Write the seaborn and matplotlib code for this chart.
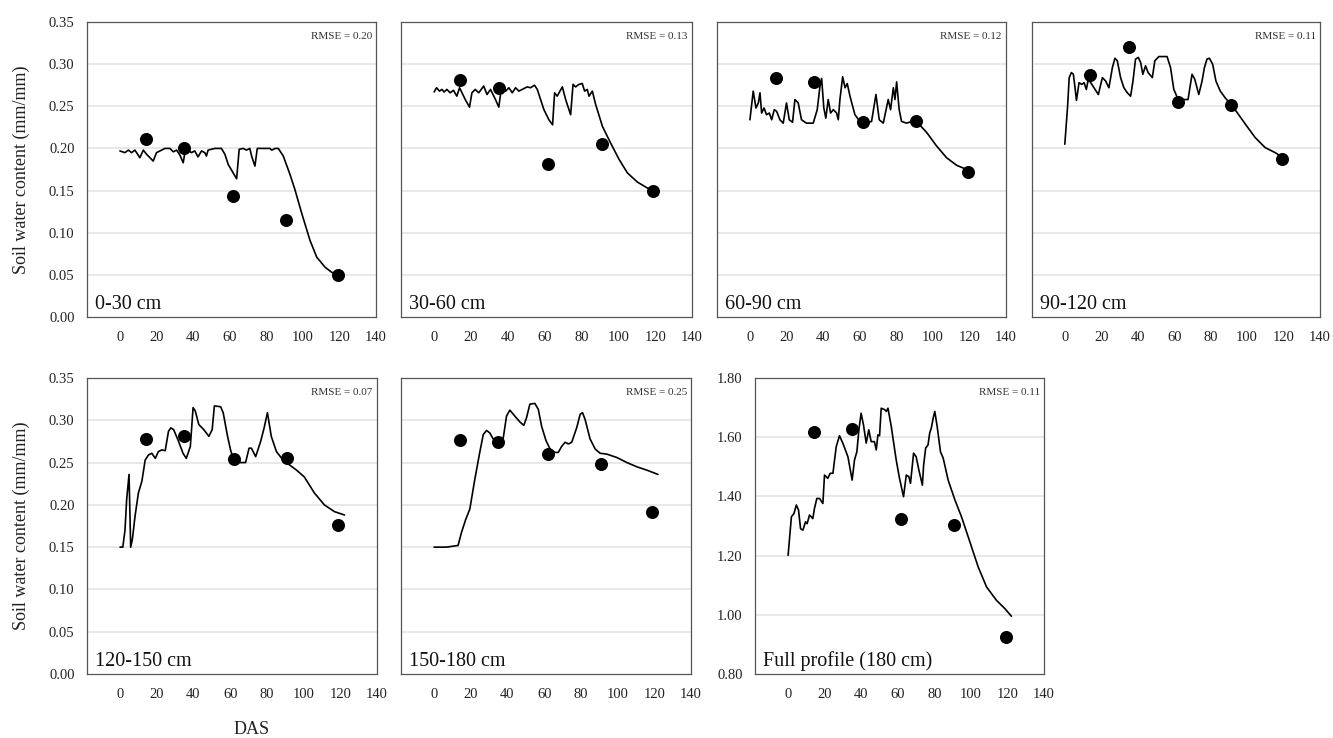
import matplotlib
matplotlib.use("Agg")
import matplotlib.pyplot as plt
import seaborn as sns
import pandas as pd

# Observation dates (days after sowing) shared by all layers
obs_das = [14, 35, 62, 91, 119]

# ---- 0-30 cm ----
sim_das_0_30 = [0, 2.7, 4.6, 6.4, 8.2, 10.9, 12.8, 14.6, 18.2, 20, 21.9, 24.6, 27.3, 29.2, 31, 32.8, 34.6, 35.5,
                37.3, 39.1, 40.9, 42.7, 44.6, 46.4, 47.3, 48.2, 50, 51.9, 55.5, 57.4, 59.2, 61.9, 63.8, 65.2,
                67.4, 69.2, 71, 72, 73.8, 75.1, 82, 83, 84.8, 86.6, 89.3, 93, 95.7, 99.4, 103.9, 107.6, 112.2,
                115.8, 118.6, 121]
sim_swc_0_30 = [0.197, 0.195, 0.198, 0.195, 0.198, 0.189, 0.198, 0.193, 0.185, 0.195, 0.197, 0.200, 0.200, 0.196,
                0.198, 0.192, 0.183, 0.195, 0.198, 0.195, 0.197, 0.190, 0.197, 0.195, 0.191, 0.198, 0.199, 0.200,
                0.200, 0.193, 0.181, 0.171, 0.164, 0.199, 0.200, 0.198, 0.200, 0.191, 0.179, 0.200, 0.200, 0.198,
                0.200, 0.200, 0.191, 0.169, 0.151, 0.123, 0.091, 0.071, 0.059, 0.053, 0.051, 0.053]
obs_swc_0_30 = [0.211, 0.200, 0.144, 0.115, 0.050]

# ---- 30-60 cm ----
sim_das_30_60 = [0, 1.3, 2.9, 4.2, 5.4, 6.9, 8.7, 10.5, 12.3, 13.8, 16.9, 19.2, 20.5, 22.3, 24.2, 26.9, 28.7, 30.6,
                 33.3, 35.1, 36.4, 38.8, 40.6, 42.4, 44.2, 46, 47.8, 50.5, 52.3, 54.5, 56, 59.6, 62.3, 64.3, 65.4,
                 66.8, 69.6, 71.4, 74.1, 75.4, 76.8, 78.6, 80.4, 81.7, 83.1, 84.1, 85.9, 87.7, 91.4, 95.9, 100.4,
                 104.9, 110.4, 115.8, 119.5, 121]
sim_swc_30_60 = [0.267, 0.272, 0.268, 0.270, 0.267, 0.270, 0.266, 0.269, 0.262, 0.272, 0.258, 0.249, 0.266, 0.270,
                 0.266, 0.274, 0.264, 0.270, 0.258, 0.249, 0.270, 0.268, 0.272, 0.266, 0.272, 0.268, 0.270, 0.273,
                 0.272, 0.275, 0.270, 0.246, 0.234, 0.228, 0.266, 0.262, 0.273, 0.258, 0.240, 0.276, 0.273, 0.276,
                 0.277, 0.268, 0.270, 0.262, 0.268, 0.252, 0.226, 0.206, 0.187, 0.171, 0.160, 0.153, 0.150, 0.149]
obs_swc_30_60 = [0.281, 0.272, 0.181, 0.205, 0.149]

# ---- 60-90 cm ----
sim_das_60_90 = [0, 1.8, 3.3, 4.6, 5.5, 6.4, 7.7, 9.1, 10.6, 11.9, 13.3, 14.6, 16.4, 18.2, 20, 21.5, 23.3, 24.6,
                 26.4, 28.2, 30.9, 34.6, 36.8, 38.3, 39.2, 40.4, 41.5, 42.8, 44.1, 45.6, 47.4, 48.3, 49.2, 50.7,
                 52, 53.2, 54.7, 57.4, 60.1, 62.8, 66.5, 68.9, 70.7, 72.9, 75.6, 76.9, 78.4, 79.3, 80.2, 81.6,
                 82.9, 85.7, 88.4, 91.1, 96.6, 102, 107.5, 113, 118.5, 121]
sim_swc_60_90 = [0.234, 0.268, 0.248, 0.254, 0.266, 0.242, 0.248, 0.240, 0.242, 0.234, 0.246, 0.244, 0.234, 0.230,
                 0.254, 0.234, 0.231, 0.258, 0.254, 0.234, 0.230, 0.230, 0.246, 0.274, 0.283, 0.248, 0.236, 0.258,
                 0.242, 0.246, 0.242, 0.234, 0.258, 0.285, 0.272, 0.277, 0.262, 0.240, 0.232, 0.230, 0.232, 0.264,
                 0.234, 0.230, 0.258, 0.246, 0.272, 0.258, 0.279, 0.246, 0.232, 0.230, 0.232, 0.232, 0.219, 0.203,
                 0.189, 0.180, 0.175, 0.173]
obs_swc_60_90 = [0.283, 0.279, 0.231, 0.233, 0.172]

# ---- 90-120 cm ----
sim_das_90_120 = [0, 1.5, 2.4, 3.6, 4.7, 5.6, 6.4, 7.8, 9.3, 10.6, 11.8, 12.9, 14.2, 16, 18.4, 20.6, 22.4, 24.2,
                  26.1, 27.5, 28.8, 30.6, 32.4, 34.3, 36.1, 37.4, 38.8, 40.3, 41.6, 42.8, 44.3, 45.7, 48, 49.4,
                  51.6, 56.1, 58, 59.8, 62.2, 65.2, 67.6, 69.8, 71.3, 73.5, 75.3, 76.6, 78, 79.3, 81.1, 82.9,
                  85.3, 88, 90.8, 94.4, 99, 104.4, 109.9, 115.4, 119.9, 121]
sim_swc_90_120 = [0.205, 0.249, 0.284, 0.290, 0.288, 0.272, 0.257, 0.278, 0.276, 0.278, 0.270, 0.282, 0.278, 0.272,
                  0.264, 0.284, 0.280, 0.272, 0.296, 0.307, 0.304, 0.284, 0.272, 0.266, 0.262, 0.280, 0.306, 0.308,
                  0.302, 0.288, 0.298, 0.290, 0.284, 0.304, 0.309, 0.309, 0.296, 0.270, 0.258, 0.258, 0.258, 0.288,
                  0.282, 0.264, 0.280, 0.296, 0.306, 0.307, 0.300, 0.280, 0.268, 0.260, 0.253, 0.243, 0.229, 0.213,
                  0.201, 0.195, 0.189, 0.188]
obs_swc_90_120 = [0.287, 0.320, 0.255, 0.252, 0.187]

# ---- 120-150 cm ----
sim_das_120_150 = [0, 1.5, 2.7, 3.6, 4.9, 5.8, 6.7, 8.2, 10, 11.9, 13.7, 15.5, 17.3, 19.2, 20.9, 22.8, 24.6, 26.4,
                   27.7, 29.2, 31.9, 34.3, 36.1, 38.3, 39.8, 41, 42.9, 45.6, 48.4, 50.2, 51.4, 54.8, 56.2, 58.4,
                   60.2, 62, 65.7, 68.4, 70.3, 71.6, 73.9, 76.6, 78.5, 80.3, 82.4, 85.2, 88.8, 92.5, 96.2, 100.4,
                   105.9, 111.3, 116.8, 122.3]
sim_swc_120_150 = [0.150, 0.150, 0.170, 0.206, 0.236, 0.150, 0.159, 0.187, 0.214, 0.228, 0.253, 0.259, 0.261, 0.255,
                   0.263, 0.265, 0.264, 0.287, 0.291, 0.289, 0.275, 0.261, 0.255, 0.269, 0.315, 0.311, 0.295, 0.289,
                   0.281, 0.289, 0.317, 0.316, 0.309, 0.283, 0.265, 0.252, 0.250, 0.250, 0.267, 0.267, 0.257, 0.275,
                   0.291, 0.309, 0.281, 0.263, 0.253, 0.247, 0.241, 0.233, 0.214, 0.200, 0.192, 0.188]
obs_swc_120_150 = [0.278, 0.282, 0.254, 0.255, 0.176]

# ---- 150-180 cm ----
sim_das_150_180 = [0, 6.7, 13.1, 14.9, 17.3, 19.5, 22.2, 24.9, 26.8, 28.6, 30.4, 32.2, 35, 37.7, 39.5, 41.3, 44,
                   46.8, 48.9, 50.4, 52.2, 54.9, 56.8, 58.6, 61, 63.2, 65.9, 67.7, 69.5, 71.4, 73.2, 75, 77.7,
                   79.6, 80.9, 82.3, 85, 87.8, 90.5, 94.1, 99.6, 105.1, 110.5, 116, 122]
sim_swc_150_180 = [0.150, 0.150, 0.152, 0.167, 0.183, 0.195, 0.230, 0.262, 0.283, 0.288, 0.285, 0.278, 0.274, 0.279,
                   0.305, 0.312, 0.305, 0.298, 0.294, 0.303, 0.319, 0.320, 0.313, 0.293, 0.276, 0.266, 0.262, 0.262,
                   0.269, 0.274, 0.272, 0.274, 0.291, 0.307, 0.309, 0.301, 0.278, 0.266, 0.261, 0.260, 0.256, 0.250,
                   0.245, 0.241, 0.236]
obs_swc_150_180 = [0.277, 0.274, 0.260, 0.248, 0.191]

# ---- Full profile (180 cm) ----
sim_das_full = [0.1, 1.9, 3.3, 4.6, 5.8, 6.9, 8.2, 9.6, 10.5, 11.8, 13.6, 14.5, 15.8, 17.3, 19.1, 20, 21.8, 23.1,
                24.6, 26.4, 28.2, 30, 32.8, 35.1, 36.4, 37.7, 38.8, 40, 41.3, 42.8, 44.2, 45.5, 47.3, 48.3, 49.2,
                50.1, 51, 52.9, 53.8, 54.7, 56.5, 59.2, 61, 63.2, 64.7, 66.1, 67, 68.7, 70.1, 71.6, 73.5, 74.2,
                75.3, 76.6, 77.5, 78.4, 79.4, 80.3, 81.6, 83.4, 84.9, 87.6, 91.3, 94.9, 99.5, 104, 108.6, 114,
                118.6, 122.2]
sim_swc_full = [1.201, 1.331, 1.342, 1.371, 1.354, 1.291, 1.286, 1.314, 1.308, 1.337, 1.325, 1.359, 1.393, 1.393,
                1.376, 1.472, 1.461, 1.478, 1.478, 1.568, 1.605, 1.580, 1.534, 1.455, 1.523, 1.551, 1.625, 1.681,
                1.642, 1.580, 1.625, 1.585, 1.585, 1.557, 1.608, 1.605, 1.698, 1.693, 1.687, 1.698, 1.636, 1.523,
                1.461, 1.399, 1.472, 1.467, 1.444, 1.546, 1.534, 1.489, 1.438, 1.506, 1.563, 1.574, 1.614, 1.631,
                1.664, 1.687, 1.636, 1.551, 1.529, 1.455, 1.388, 1.331, 1.246, 1.162, 1.094, 1.049, 1.021, 0.995]
obs_swc_full = [1.617, 1.627, 1.323, 1.305, 0.924]

layer_names = ["0-30 cm", "30-60 cm", "60-90 cm", "90-120 cm", "120-150 cm", "150-180 cm", "Full profile (180 cm)"]
rmse_values = ["0.20", "0.13", "0.12", "0.11", "0.07", "0.25", "0.11"]
x_ticks = [0, 20, 40, 60, 80, 100, 120, 140]
y_ticks_layer = [0.00, 0.05, 0.10, 0.15, 0.20, 0.25, 0.30, 0.35]
y_ticks_full = [0.80, 1.00, 1.20, 1.40, 1.60, 1.80]

sim_series = [(sim_das_0_30, sim_swc_0_30), (sim_das_30_60, sim_swc_30_60), (sim_das_60_90, sim_swc_60_90),
              (sim_das_90_120, sim_swc_90_120), (sim_das_120_150, sim_swc_120_150),
              (sim_das_150_180, sim_swc_150_180), (sim_das_full, sim_swc_full)]
obs_series = [obs_swc_0_30, obs_swc_30_60, obs_swc_60_90, obs_swc_90_120, obs_swc_120_150, obs_swc_150_180,
              obs_swc_full]

sns.set_style("white")
plt.rcParams["font.family"] = ["Liberation Serif", "DejaVu Serif"]

W, H = 1333, 738
fig = plt.figure(figsize=(W / 100, H / 100), dpi=100)

# axes boxes in pixels: (left, right, top, bottom)
boxes = [(87, 376, 22, 317), (401, 692, 22, 317), (717, 1006, 22, 317), (1032, 1320, 22, 317),
         (87, 377, 378, 674), (401, 691, 378, 674), (755, 1044, 378, 674)]
labelled = [True, False, False, False, True, False, True]

spine_col = "#555555"
for i, (l, r, t, b) in enumerate(boxes):
    ax = fig.add_axes([l / W, 1 - b / H, (r - l) / W, (b - t) / H])
    das, swc = sim_series[i]
    sim_df = pd.DataFrame({"DAS": das, "SWC": swc})
    obs_df = pd.DataFrame({"DAS": obs_das, "SWC": obs_series[i]})
    full = i == 6
    yt = y_ticks_full if full else y_ticks_layer

    for yv in yt[1:-1]:
        ax.axhline(yv, color="#e6e6e6", lw=1.3, zorder=0)

    sns.lineplot(data=sim_df, x="DAS", y="SWC", ax=ax, color="black", lw=1.2, sort=False,
                 estimator=None, zorder=3)
    sns.scatterplot(data=obs_df, x="DAS", y="SWC", ax=ax, color="black", s=88, edgecolor="black",
                    linewidth=0, zorder=4)

    ax.set_xlim(-18, 140)
    ax.set_ylim(yt[0], yt[-1])
    ax.set_xticks(x_ticks)
    ax.set_yticks(yt)
    ax.set_xlabel("")
    ax.set_ylabel("")
    ax.set_xticklabels([str(v) for v in x_ticks])
    if labelled[i]:
        ax.set_yticklabels([f"{v:.2f}" for v in yt])
        ax.tick_params(axis="y", direction="out", length=6, width=0.8, color=spine_col, labelsize=10.5,
                       pad=3, labelcolor="#222222")
    else:
        ax.set_yticklabels([])
        ax.tick_params(axis="y", direction="in", length=6, width=0.8, color=spine_col)
    ax.tick_params(axis="x", direction="out", length=3, width=0.8, color=spine_col, labelsize=10.5,
                   pad=7, labelcolor="#222222")
    for sp in ax.spines.values():
        sp.set_visible(True)
        sp.set_color(spine_col)
        sp.set_linewidth(0.9)

    ax.annotate(layer_names[i], xy=(0, 0), xycoords="axes fraction", xytext=(6, 6),
                textcoords="offset points", ha="left", va="baseline", fontsize=14.5, color="#111111")
    ax.annotate(f"RMSE = {rmse_values[i]}", xy=(1, 1), xycoords="axes fraction", xytext=(-3, -7),
                textcoords="offset points", ha="right", va="top", fontsize=8, color="#333333")

fig.text(21 / W, 1 - 170 / H, "Soil water content (mm/mm)", rotation=90, ha="center", va="center",
         fontsize=13, color="#222222")
fig.text(21 / W, 1 - 526 / H, "Soil water content (mm/mm)", rotation=90, ha="center", va="center",
         fontsize=13, color="#222222")
fig.text(252 / W, 1 - 729 / H, "DAS", ha="center", va="center", fontsize=13, color="#222222")

fig.savefig("out.png", dpi=100)
